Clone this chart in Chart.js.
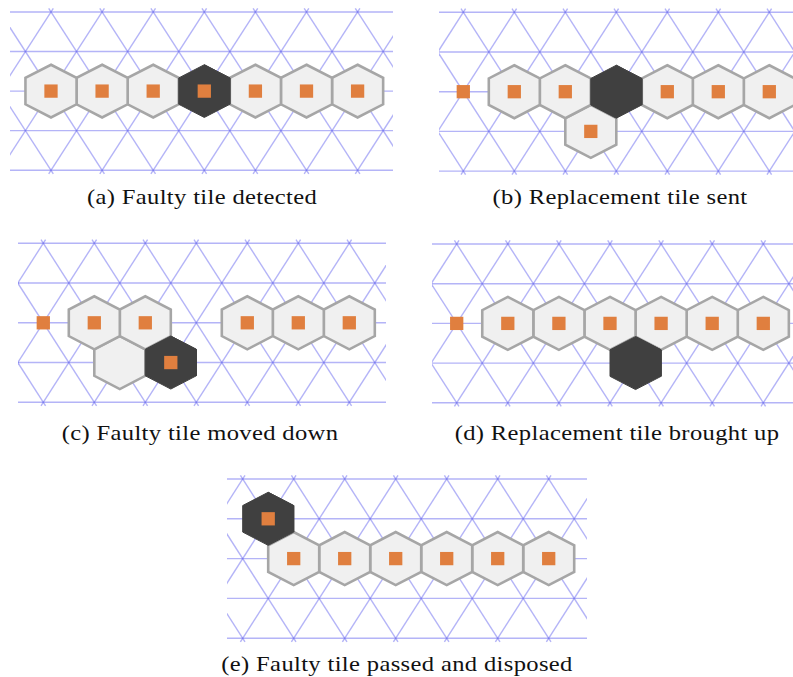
<!DOCTYPE html>
<html lang="en">
<head>
  <meta charset="UTF-8" />
  <title>Faulty tile replacement</title>
  <script src="https://cdn.jsdelivr.net/npm/chart.js"></script>
  <style>
    body {
      margin: 0;
      background: #fff;
      width: 793px;
      height: 677px;
      position: relative;
      overflow: hidden;
    }
    canvas {
      position: absolute;
    }
    .caption {
      position: absolute;
      font-family: 'Liberation Serif', serif;
      font-size: 21px;
      letter-spacing: 0.3px;
      color: #111;
      white-space: nowrap;
      transform: translateX(-50%) scaleX(1.17);
      line-height: 1;
    }
  </style>
</head>
<body>

<script>
  // tile = [column, row, kind]; kinds: ok, faulty, empty, dead, core
  const captions = [
    '(a) Faulty tile detected',
    '(b) Replacement tile sent',
    '(c) Faulty tile moved down',
    '(d) Replacement tile brought up',
    '(e) Faulty tile passed and disposed'
  ];
  const tilesA = [[0, 2, 'ok'], [1, 2, 'ok'], [2, 2, 'ok'], [3, 2, 'faulty'], [4, 2, 'ok'], [5, 2, 'ok'], [6, 2, 'ok']];
  const tilesB = [[0, 2, 'core'], [1, 2, 'ok'], [2, 2, 'ok'], [3, 2, 'dead'], [4, 2, 'ok'], [5, 2, 'ok'], [6, 2, 'ok'], [2.5, 3, 'ok']];
  const tilesC = [[0, 2, 'core'], [1, 2, 'ok'], [2, 2, 'ok'], [1.5, 3, 'empty'], [2.5, 3, 'faulty'], [4, 2, 'ok'], [5, 2, 'ok'], [6, 2, 'ok']];
  const tilesD = [[0, 2, 'core'], [1, 2, 'ok'], [2, 2, 'ok'], [3, 2, 'ok'], [4, 2, 'ok'], [5, 2, 'ok'], [6, 2, 'ok'], [3.5, 3, 'dead']];
  const tilesE = [[0.5, 1, 'faulty'], [1, 2, 'ok'], [2, 2, 'ok'], [3, 2, 'ok'], [4, 2, 'ok'], [5, 2, 'ok'], [6, 2, 'ok']];
  const gridRows = [0, 1, 2, 3, 4];

  const panelTiles = [tilesA, tilesB, tilesC, tilesD, tilesE];

  // where each panel sits on the page: column 0 / row 0 pixel, unit sizes, grid edges, caption spot
  const layout = [
    { x0: 51.0, y0: 12.0, ux: 51.1, uy: 39.55, left: 10, right: 393, capX: 202, capY: 187 },
    { x0: 463.3, y0: 12.3, ux: 51.0, uy: 39.7, left: 439, right: 793, capX: 620, capY: 187 },
    { x0: 43.3, y0: 243.3, ux: 51.0, uy: 39.75, left: 18, right: 386, capX: 200, capY: 423 },
    { x0: 456.7, y0: 244.0, ux: 51.1, uy: 39.7, left: 432, right: 793, capX: 617, capY: 423 },
    { x0: 242.7, y0: 479.0, ux: 51.0, uy: 39.8, left: 227, right: 587, capX: 397, capY: 654 }
  ];

  const gridColor = 'rgba(105, 105, 240, 0.5)';
  const hexFill = '#f0f0f0';
  const hexEdge = '#a6a6a6';
  const darkFill = '#404040';
  const coreColor = '#e07f3f';

  function hexPoints(c, r) {
    const corners = [[0, -2 / 3], [0.5, -1 / 3], [0.5, 1 / 3], [0, 2 / 3], [-0.5, 1 / 3], [-0.5, -1 / 3], [0, -2 / 3], [0.5, -1 / 3]];
    return corners.map(([dx, dy]) => ({ x: c + dx, y: r + dy }));
  }

  function buildPanel(i) {
    const L = layout[i];
    const tiles = panelTiles[i];
    const yPad = 0.2;
    const top = Math.round(L.y0 - yPad * L.uy);
    const height = Math.round((gridRows.length - 1 + 2 * yPad) * L.uy);
    const width = L.right - L.left;
    const xMin = (L.left - L.x0) / L.ux;
    const xMax = (L.right - L.x0) / L.ux;
    const yMin = (top - L.y0) / L.uy;
    const yMax = (top + height - L.y0) / L.uy;

    const canvas = document.createElement('canvas');
    canvas.width = width;
    canvas.height = height;
    canvas.style.left = L.left + 'px';
    canvas.style.top = top + 'px';
    document.body.appendChild(canvas);

    const datasets = [];
    const lineBase = { pointRadius: 0, tension: 0, clip: 0, fill: false };

    // triangular grid
    const rowLast = gridRows[gridRows.length - 1];
    gridRows.forEach(r => {
      datasets.push({ ...lineBase, order: 4, borderColor: gridColor, borderWidth: 1.4,
        data: [{ x: xMin - 1, y: r }, { x: xMax + 1, y: r }] });
    });
    const over = 0.09;
    for (let k = Math.floor(xMin) - 3; k <= Math.ceil(xMax) + 3; k++) {
      datasets.push({ ...lineBase, order: 4, borderColor: gridColor, borderWidth: 1.4,
        data: [{ x: k - over / 2, y: -over }, { x: k + rowLast / 2 + over / 2, y: rowLast + over }] });
      datasets.push({ ...lineBase, order: 4, borderColor: gridColor, borderWidth: 1.4,
        data: [{ x: k + over / 2, y: -over }, { x: k - rowLast / 2 - over / 2, y: rowLast + over }] });
    }

    // tiles
    tiles.forEach(([c, r, kind]) => {
      if (kind === 'ok' || kind === 'empty') {
        datasets.push({ ...lineBase, order: 3, fill: 'shape', backgroundColor: hexFill,
          borderColor: hexEdge, borderWidth: 2.6, borderJoinStyle: 'miter', data: hexPoints(c, r) });
      } else if (kind === 'faulty' || kind === 'dead') {
        datasets.push({ ...lineBase, order: 2, fill: 'shape', backgroundColor: darkFill,
          borderColor: darkFill, borderWidth: 1, borderJoinStyle: 'miter', data: hexPoints(c, r) });
      }
    });

    // orange cores
    const cores = tiles.filter(t => t[2] === 'ok' || t[2] === 'faulty' || t[2] === 'core')
      .map(([c, r]) => ({ x: c, y: r }));
    datasets.push({ order: 1, showLine: false, clip: 0, data: cores, pointStyle: 'rect', pointRadius: 9.4,
      pointBackgroundColor: coreColor, pointBorderWidth: 0, pointBorderColor: coreColor });

    new Chart(canvas.getContext('2d'), {
      type: 'line',
      data: { datasets },
      options: {
        responsive: false,
        animation: false,
        events: [],
        layout: { padding: 0, autoPadding: false },
        plugins: { legend: { display: false }, tooltip: { enabled: false } },
        scales: {
          x: { type: 'linear', min: xMin, max: xMax, display: false },
          y: { type: 'linear', min: yMin, max: yMax, reverse: true, display: false }
        }
      }
    });

    const cap = document.createElement('div');
    cap.className = 'caption';
    cap.textContent = captions[i];
    cap.style.left = L.capX + 'px';
    cap.style.top = L.capY + 'px';
    document.body.appendChild(cap);
  }

  layout.forEach((_, i) => buildPanel(i));
</script>

</body>
</html>
